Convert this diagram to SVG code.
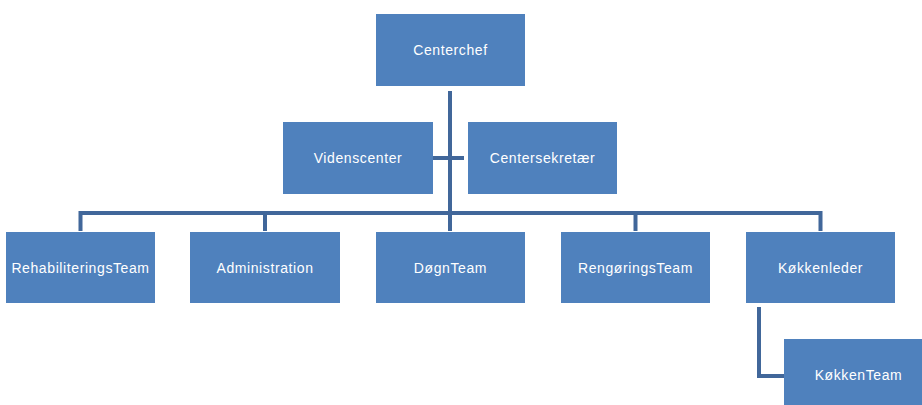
<svg xmlns="http://www.w3.org/2000/svg" width="922" height="405" viewBox="0 0 922 405">
<style>
.box{fill:#4f81bd}
.lbl{fill:#ffffff;font-family:"Liberation Sans",Arial,sans-serif;font-size:14px;letter-spacing:0.6px;text-anchor:middle;dominant-baseline:central}
.conn{stroke:#41679a;stroke-width:4;fill:none}
</style>
<rect width="922" height="405" fill="#ffffff"/>
<g id="connectors">
<path class="conn" d="M450,91 V215"/>
<path class="conn" d="M433,158 H464"/>
<path class="conn" d="M80.5,231 V213 H820.5 V231"/>
<path class="conn" d="M265,213 V231"/>
<path class="conn" d="M450,213 V231"/>
<path class="conn" d="M635.5,213 V231"/>
<path class="conn" d="M759,307 V376 H784"/>
</g>
<g id="centerchef"><rect class="box" x="376" y="14" width="149" height="72"/><text class="lbl" x="450.5" y="50">Centerchef</text></g>
<g id="videnscenter"><rect class="box" x="283" y="122" width="150" height="72"/><text class="lbl" x="358" y="158">Videnscenter</text></g>
<g id="centersekretaer"><rect class="box" x="468" y="122" width="149" height="72"/><text class="lbl" x="542.5" y="158">Centersekretær</text></g>
<g id="rehabiliteringsteam"><rect class="box" x="6" y="232" width="149" height="71"/><text class="lbl" x="80.5" y="267.5">RehabiliteringsTeam</text></g>
<g id="administration"><rect class="box" x="190" y="232" width="150" height="71"/><text class="lbl" x="265" y="267.5">Administration</text></g>
<g id="doegnteam"><rect class="box" x="376" y="232" width="149" height="71"/><text class="lbl" x="450.5" y="267.5">DøgnTeam</text></g>
<g id="rengoeringsteam"><rect class="box" x="561" y="232" width="149" height="71"/><text class="lbl" x="635.5" y="267.5">RengøringsTeam</text></g>
<g id="koekkenleder"><rect class="box" x="746" y="232" width="149" height="71"/><text class="lbl" x="820.5" y="267.5">Køkkenleder</text></g>
<g id="koekkenteam"><rect class="box" x="784" y="339" width="149" height="71"/><text class="lbl" x="858.5" y="375">KøkkenTeam</text></g>
</svg>
